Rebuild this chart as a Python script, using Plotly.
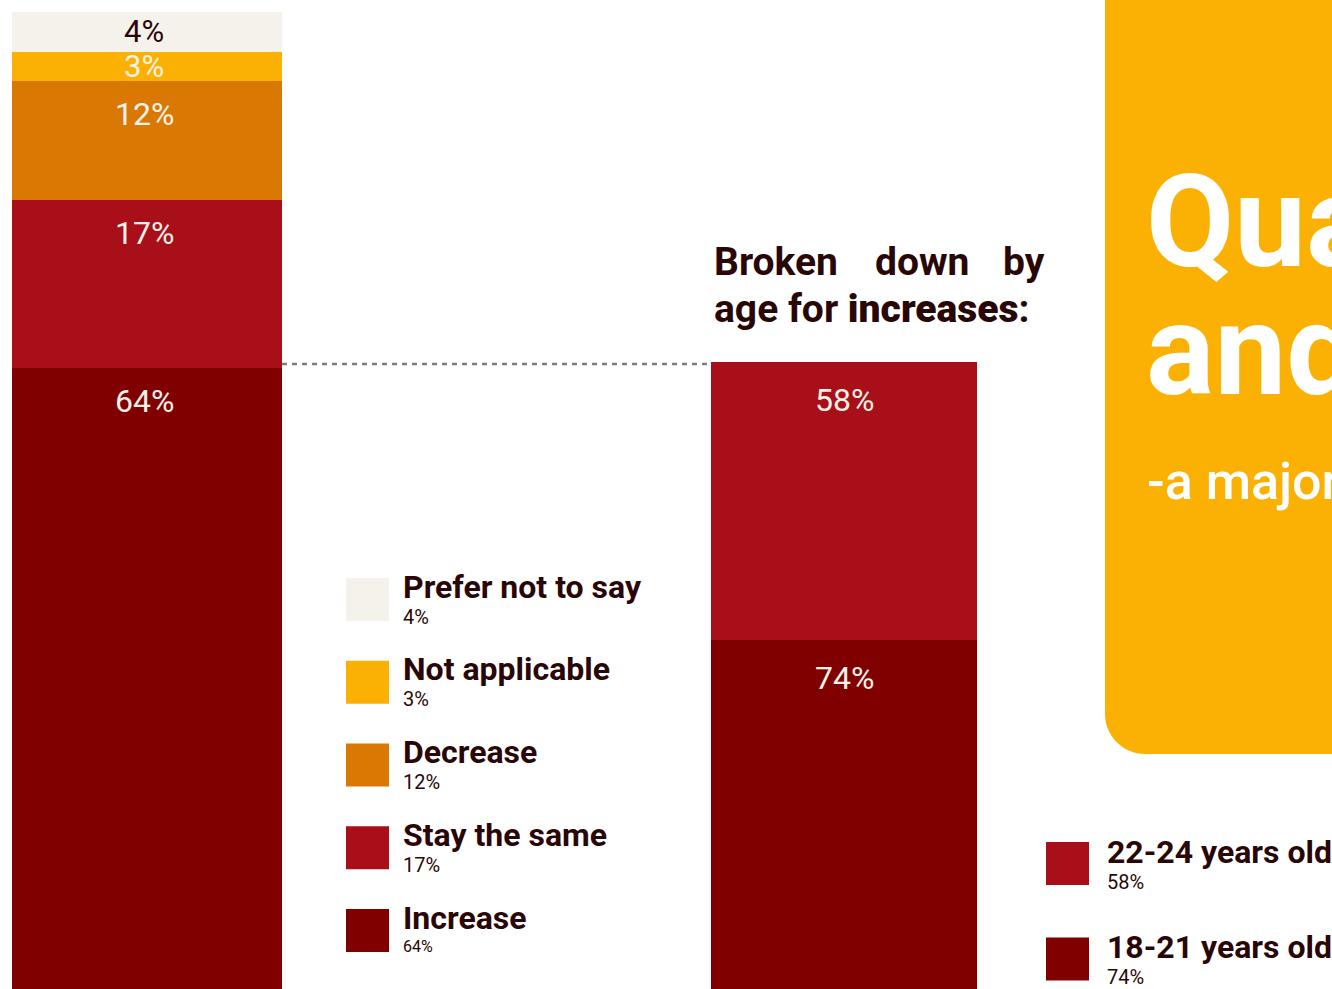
import plotly.graph_objects as go

# ---- data -------------------------------------------------------------
overall_labels = ["Increase", "Stay the same", "Decrease", "Not applicable", "Prefer not to say"]
overall_values = [64, 17, 12, 3, 4]
overall_colors = ["#800000", "#a80f19", "#d97904", "#fbb103", "#f5f2ec"]
overall_label_colors = ["#f7f1e8", "#f7f1e8", "#f7f1e8", "#f7f1e8", "#2a0707"]

age_labels = ["18-21 years old", "22-24 years old"]
age_values = [74, 58]
age_colors = ["#800000", "#a80f19"]

title_line1 = ["Broken", "down", "by"]
title_line2 = 'age for <span style="font-weight:900">increases</span>:'
panel_lines = ["Qua", "and"]
panel_sub = "-a major"

# ---- page geometry (pixels) -------------------------------------------
W, H = 1332, 989
DARK = "#2a0707"
CREAM = "#f7f1e8"
AMBER = "#fbb103"
FONT = "Roboto"

# left bar: 0% sits just below the page edge, 100% at y=12
L_ZERO, L_TOP = 1000.0, 12.0
l_scale = (L_ZERO - L_TOP) / sum(overall_values)
l_range = [(L_ZERO - H) / l_scale, L_ZERO / l_scale]

# right bar: stacked total reaches y=362
R_ZERO, R_TOP = 995.6, 362.0
r_scale = (R_ZERO - R_TOP) / sum(age_values)
r_range = [(R_ZERO - H) / r_scale, R_ZERO / r_scale]

fig = go.Figure()

for lab, val, col in zip(overall_labels, overall_values, overall_colors):
    fig.add_trace(go.Bar(x=["all"], y=[val], name=lab, marker=dict(color=col, line=dict(width=0)),
                         width=1, xaxis="x", yaxis="y", showlegend=False, hoverinfo="skip"))

for lab, val, col in zip(age_labels, age_values, age_colors):
    fig.add_trace(go.Bar(x=["age"], y=[val], name=lab, marker=dict(color=col, line=dict(width=0)),
                         width=1, xaxis="x2", yaxis="y2", showlegend=False, hoverinfo="skip"))

# invisible full-page axis used for pixel-placed decorations
fig.add_trace(go.Scatter(x=[], y=[], xaxis="x3", yaxis="y3", showlegend=False))

annotations = []
shapes = []

# value labels inside the bars
cum = 0
for val, tc in zip(overall_values, overall_label_colors):
    top = cum + val
    if val >= 10:
        annotations.append(dict(x="all", y=top, xref="x", yref="y", text=f"{val}%", showarrow=False,
                                yanchor="middle", yshift=-33, xshift=-3,
                                font=dict(family=FONT, size=32, color=tc)))
    else:
        annotations.append(dict(x="all", y=cum + val / 2, xref="x", yref="y", text=f"{val}%",
                                showarrow=False, yanchor="middle", xshift=-3,
                                font=dict(family=FONT, size=31, color=tc)))
    cum = top

cum = 0
for val in age_values:
    top = cum + val
    annotations.append(dict(x="age", y=top, xref="x2", yref="y2", text=f"{val}%", showarrow=False,
                            yanchor="middle", yshift=-38,
                            font=dict(family=FONT, size=32, color=CREAM)))
    cum = top

# dotted connector between the two bars
shapes.append(dict(type="line", xref="x3", yref="y3", x0=282, x1=711, y0=364, y1=364,
                   line=dict(color="#7d7d7d", width=2.5, dash="5px,5px")))

# heading over the right bar (first line spread across the column)
hfont = dict(family=FONT, size=39, color=DARK, weight=700)
annotations.append(dict(x=712, y=262, xref="x3", yref="y3", text=title_line1[0], showarrow=False,
                        xanchor="left", yanchor="middle", font=hfont))
annotations.append(dict(x=922, y=262, xref="x3", yref="y3", text=title_line1[1], showarrow=False,
                        xanchor="center", yanchor="middle", font=hfont))
annotations.append(dict(x=1047, y=262, xref="x3", yref="y3", text=title_line1[2], showarrow=False,
                        xanchor="right", yanchor="middle", font=hfont))
annotations.append(dict(x=712, y=309, xref="x3", yref="y3", text=title_line2, showarrow=False,
                        xanchor="left", yanchor="middle", font=hfont))

# legend for the overall bar (top row = top segment)
leg_rows = list(zip(overall_labels, overall_values, overall_colors))[::-1]
for i, (lab, val, col) in enumerate(leg_rows):
    y0 = 578 + i * 82.75
    last = i == len(leg_rows) - 1
    shapes.append(dict(type="rect", xref="x3", yref="y3", x0=346, x1=389, y0=y0, y1=y0 + 43,
                       fillcolor=col, line=dict(width=0)))
    annotations.append(dict(x=401, y=y0 + 8.5, xref="x3", yref="y3", text=lab, showarrow=False,
                            xanchor="left", yanchor="middle",
                            font=dict(family=FONT, size=32, color=DARK, weight=700)))
    annotations.append(dict(x=401, y=y0 + (37 if last else 38.5), xref="x3", yref="y3",
                            text=f"{val}%", showarrow=False, xanchor="left", yanchor="middle",
                            font=dict(family=FONT, size=16 if last else 20, color=DARK)))

# legend for the age bar
age_rows = list(zip(age_labels, age_values, age_colors))[::-1]
for i, (lab, val, col) in enumerate(age_rows):
    y0 = 842 + i * 95.5
    shapes.append(dict(type="rect", xref="x3", yref="y3", x0=1046, x1=1089, y0=y0, y1=y0 + 43,
                       fillcolor=col, line=dict(width=0)))
    annotations.append(dict(x=1105, y=y0 + 9.5, xref="x3", yref="y3", text=lab, showarrow=False,
                            xanchor="left", yanchor="middle",
                            font=dict(family=FONT, size=32, color=DARK, weight=700)))
    annotations.append(dict(x=1105, y=y0 + 39.5, xref="x3", yref="y3", text=f"{val}%", showarrow=False,
                            xanchor="left", yanchor="middle",
                            font=dict(family=FONT, size=20, color=DARK)))

# amber panel with a rounded lower-left corner
r = 40
k = r * 0.5523
px0, py1 = 1105, 754
panel_path = (f"M {px0},-20 L {px0},{py1 - r} "
              f"C {px0},{py1 - r + k} {px0 + r - k},{py1} {px0 + r},{py1} "
              f"L 1360,{py1} L 1360,-20 Z")
shapes.append(dict(type="path", xref="x3", yref="y3", path=panel_path,
                   fillcolor=AMBER, line=dict(width=0), layer="below"))

annotations.append(dict(x=1144, y=222, xref="x3", yref="y3", text=panel_lines[0], showarrow=False,
                        xanchor="left", yanchor="middle",
                        font=dict(family=FONT, size=128, color="white", weight=700)))
annotations.append(dict(x=1144, y=350, xref="x3", yref="y3", text=panel_lines[1], showarrow=False,
                        xanchor="left", yanchor="middle",
                        font=dict(family=FONT, size=128, color="white", weight=700)))
annotations.append(dict(x=1145, y=481, xref="x3", yref="y3", text=panel_sub, showarrow=False,
                        xanchor="left", yanchor="middle",
                        font=dict(family=FONT, size=52, color="white", weight=500)))

hidden = dict(visible=False, showgrid=False, zeroline=False, fixedrange=True)
fig.update_layout(
    width=W, height=H,
    margin=dict(l=0, r=0, t=0, b=0),
    paper_bgcolor="white", plot_bgcolor="rgba(0,0,0,0)",
    barmode="stack", bargap=0,
    xaxis=dict(hidden, domain=[12 / W, 282 / W], range=[-0.5, 0.5], type="category", anchor="y"),
    yaxis=dict(hidden, domain=[0, 1], range=l_range, anchor="x"),
    xaxis2=dict(hidden, domain=[711 / W, 977 / W], range=[-0.5, 0.5], type="category", anchor="y2"),
    yaxis2=dict(hidden, domain=[0, 1], range=r_range, anchor="x2"),
    xaxis3=dict(hidden, domain=[0, 1], range=[0, W], anchor="y3"),
    yaxis3=dict(hidden, domain=[0, 1], range=[H, 0], anchor="x3"),
    shapes=shapes,
    annotations=annotations,
    font=dict(family=FONT),
)

fig.write_html("out.html", config={"displayModeBar": False})
